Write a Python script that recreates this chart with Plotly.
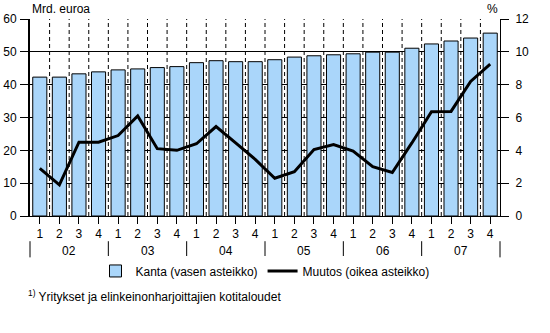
import plotly.graph_objects as go

years = ["02", "03", "04", "05", "06", "07"]
quarters = ["1", "2", "3", "4"]
kanta = [42.3, 42.3, 43.3, 43.9, 44.5, 44.8, 45.2, 45.5, 46.7, 47.3, 47.0, 47.0,
         47.6, 48.4, 48.8, 49.1, 49.4, 49.9, 49.9, 51.1, 52.4, 53.3, 54.2, 55.7]
muutos = [2.9, 1.9, 4.5, 4.5, 4.9, 6.1, 4.1, 4.0, 4.4, 5.45, 4.45, 3.45,
          2.3, 2.7, 4.05, 4.35, 3.95, 3.0, 2.65, 4.45, 6.35, 6.37, 8.2, 9.25]

q_labels = [q for y in years for q in quarters]
x = list(range(1, len(q_labels) + 1))
xr = [0.5, len(x) + 0.5]

FONT = "Liberation Sans, Arial, sans-serif"

fig = go.Figure()
fig.add_trace(go.Bar(
    x=x, y=kanta, name="Kanta (vasen asteikko)",
    marker=dict(color="#AAD6FA", line=dict(color="black", width=1)),
    width=0.72, yaxis="y",
))
fig.add_trace(go.Scatter(
    x=x, y=muutos, name="Muutos (oikea asteikko)", mode="lines",
    line=dict(color="black", width=3), yaxis="y2",
))

annotations = []
shapes = []
nq = len(quarters)

# dashed vertical gridlines at quarter boundaries
for b in x[:-1]:
    shapes.append(dict(type="line", xref="x", yref="paper", x0=b + 0.5, x1=b + 0.5,
                       y0=0, y1=1, layer="below",
                       line=dict(color="black", width=1, dash="4px,3px")))

for i, yv in enumerate(years):
    annotations.append(dict(x=i * nq + (nq + 1) / 2, xref="x", y=-0.178, yref="paper",
                            text=yv, showarrow=False, font=dict(size=12, color="black"),
                            yanchor="middle"))
for i in range(len(years) + 1):
    b = i * nq + 0.5
    px = (b - xr[0]) / (xr[1] - xr[0])
    shapes.append(dict(type="line", xref="paper", yref="paper", x0=px, x1=px,
                       y0=-0.128, y1=-0.21, line=dict(color="black", width=1)))

annotations.append(dict(x=0, xref="paper", y=1.05, yref="paper", text="Mrd. euroa",
                        showarrow=False, xanchor="left", yanchor="middle",
                        font=dict(size=12, color="black")))
annotations.append(dict(x=1, xref="paper", y=1.05, yref="paper", text="%",
                        showarrow=False, xanchor="right", yanchor="middle",
                        font=dict(size=12, color="black")))
annotations.append(dict(x=-0.008, xref="paper", y=-0.405, yref="paper",
                        text="<sup>1)</sup> Yritykset ja elinkeinonharjoittajien kotitaloudet",
                        showarrow=False, xanchor="left", yanchor="middle",
                        font=dict(size=12, color="black")))

fig.update_layout(
    width=550, height=333,
    margin=dict(l=30, r=50, t=19, b=117, autoexpand=False),
    paper_bgcolor="white", plot_bgcolor="white",
    font=dict(family=FONT, size=12, color="black"),
    showlegend=True,
    legend=dict(orientation="h", x=0.5, xanchor="center", y=-0.279, yanchor="middle",
                font=dict(size=12), itemwidth=30, tracegroupgap=0),
    bargap=0.28,
    xaxis=dict(range=xr, tickmode="array", tickvals=x, ticktext=q_labels,
               ticks="outside", ticklen=7, tickcolor="black", showline=True,
               linecolor="black", linewidth=1, showgrid=False, zeroline=False,
               tickfont=dict(size=12), automargin=False),
    yaxis=dict(range=[0, 60], dtick=10, ticks="outside", ticklen=8, tickcolor="black",
               showline=True, linecolor="black", linewidth=2, showgrid=True,
               gridcolor="black", gridwidth=1, zeroline=False, ticklabelstandoff=1,
               automargin=False),
    yaxis2=dict(range=[0, 12], dtick=2, overlaying="y", side="right", ticks="outside",
                ticklen=8, tickcolor="black", showline=True, linecolor="black",
                linewidth=1, showgrid=False, zeroline=False, ticklabelstandoff=4,
                automargin=False),
    annotations=annotations,
    shapes=shapes,
)

fig.write_html("out.html")
